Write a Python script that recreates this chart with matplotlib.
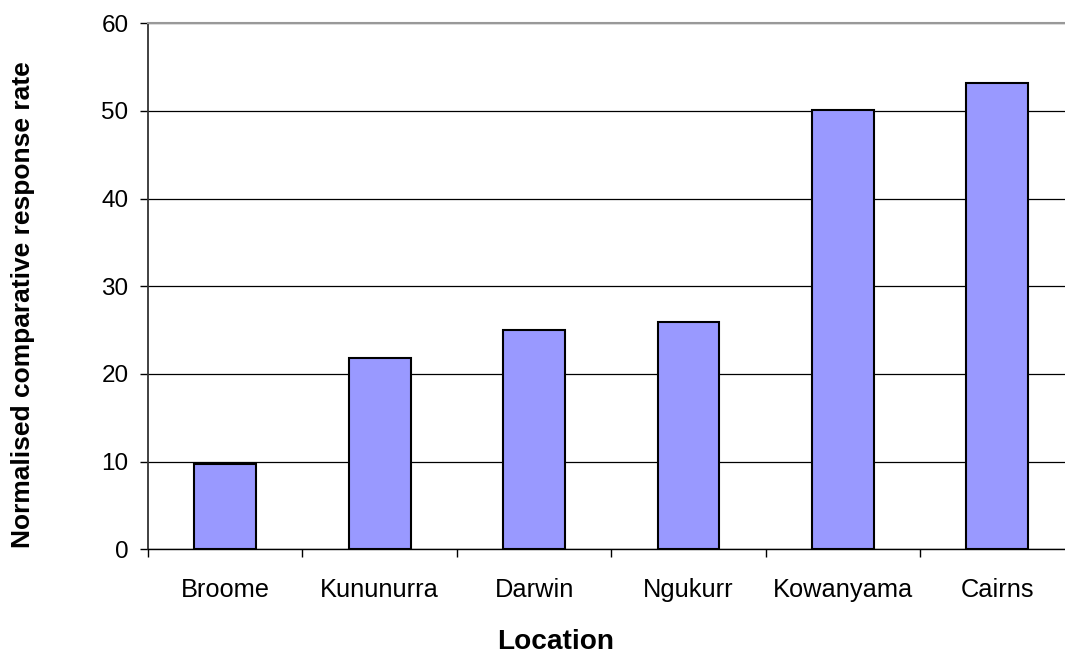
import numpy as np
import matplotlib.pyplot as plt

plt.rcParams['font.family'] = ['Liberation Sans', 'DejaVu Sans']

# Data
locations = ['Broome', 'Kununurra', 'Darwin', 'Ngukurr', 'Kowanyama', 'Cairns']
response_rate = [9.7, 21.8, 25.0, 25.9, 50.1, 53.2]

fig = plt.figure(figsize=(10.65, 6.55), dpi=100)
# plot area runs slightly past the right edge of the picture, as in the original
ax = fig.add_axes([0.139, 0.1614, 0.870, 0.803])

x = np.arange(len(locations))
ax.bar(x, response_rate, width=0.40, color='#9999FF', edgecolor='black',
       linewidth=1.5, zorder=3)

ax.set_xlim(-0.5, len(locations) - 0.5)
ax.set_ylim(0, 60)
ax.set_yticks(np.arange(0, 61, 10))

# Category labels at centres, tick marks at category boundaries
ax.set_xticks(x)
ax.set_xticklabels(locations, fontsize=18.3)
ax.set_xticks(np.arange(-0.5, len(locations), 1), minor=True)
ax.tick_params(axis='x', which='major', length=0, pad=21)
ax.tick_params(axis='x', which='minor', length=6, width=1, direction='out')
ax.tick_params(axis='y', labelsize=17.5, length=6, width=1, direction='out', pad=8)

ax.yaxis.grid(True, color='black', linewidth=0.9, zorder=0)
ax.set_axisbelow(True)

ax.spines['right'].set_visible(False)
ax.spines['top'].set_color('#999999')
ax.spines['top'].set_linewidth(1.5)
ax.spines['left'].set_color('#333333')
ax.spines['left'].set_linewidth(1.3)
ax.spines['bottom'].set_linewidth(1)

ax.set_xlabel('Location', fontsize=20.2, fontweight='bold')
ax.xaxis.set_label_coords(0.4395, -0.152)
ax.set_ylabel('Normalised comparative response rate', fontsize=19,
              fontweight='bold')
ax.yaxis.set_label_coords(-0.122, 0.466)

fig.savefig('out.png', dpi=100, facecolor='white')
